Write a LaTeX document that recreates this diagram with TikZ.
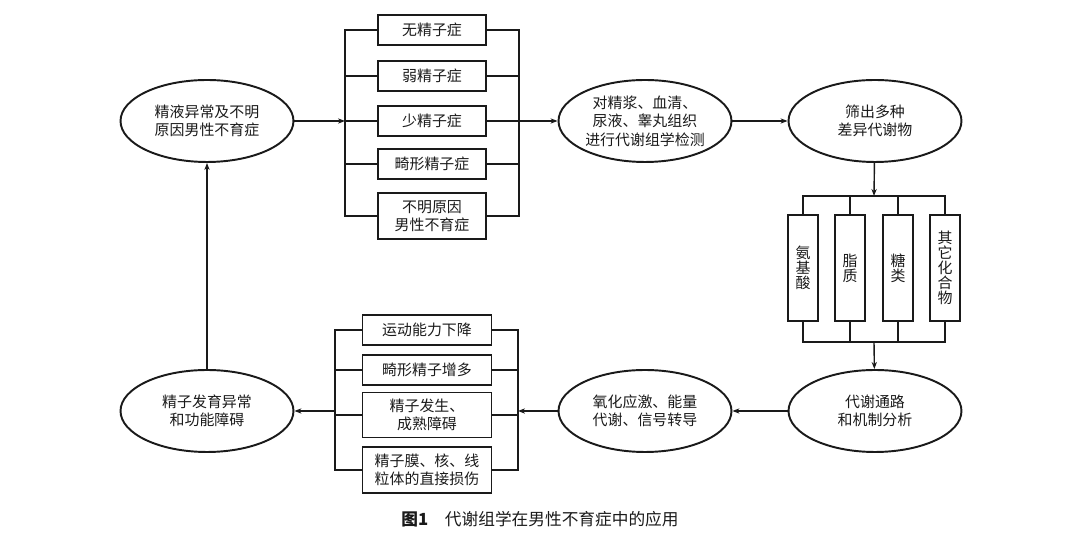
\documentclass[tikz,border=0pt]{standalone}
\usepackage{fontspec}
\setmainfont{Noto Sans CJK SC}
\usepackage{tikz}
\usetikzlibrary{positioning,shapes.geometric,arrows.meta,calc}
\definecolor{ink}{HTML}{1A1A1A}
\tikzset{
  >={Stealth[length=4pt,width=3pt]},
  every node/.style={font=\fontsize{8.5}{10.5}\selectfont, text=ink},
  % --- nodes
  ell/.style  = {ellipse, draw=ink, line width=1.1pt, align=center, inner sep=0pt,
                 minimum width=3.46cm, minimum height=1.64cm},
  box/.style  = {rectangle, draw=ink, line width=1.1pt, align=center, inner sep=0pt,
                 minimum height=0.6cm},
  vbox/.style = {box, minimum width=0.6cm, minimum height=2.12cm,
                 font=\fontsize{8.5}{8.6}\selectfont},
  % --- edges
  ln/.style   = {draw=ink, line width=0.8pt},
  e/.style    = {ln, ->},
}
\begin{document}
\begin{tikzpicture}[x=0.02cm, y=-0.02cm,
  tb/.style={box, minimum width=2.16cm},
  bb/.style={box, minimum width=2.58cm},
]
  \useasboundingbox (0,0) rectangle (1080,546);

  % --- ellipses
  \node[ell] (e1) at (207,121) {精液异常及不明\\原因男性不育症};
  \node[ell] (e2) at (645,121) {对精浆、血清、\\尿液、睾丸组织\\进行代谢组学检测};
  \node[ell] (e3) at (875,121) {筛出多种\\差异代谢物};
  \node[ell] (e4) at (875,411) {代谢通路\\和机制分析};
  \node[ell] (e5) at (645,411) {氧化应激、能量\\代谢、信号转导};
  \node[ell] (e6) at (207,411) {精子发育异常\\和功能障碍};

  % --- upper boxes
  \node[tb] (b1) at (432,30) {无精子症};
  \node[tb] (b2) at (432,76) {弱精子症};
  \node[tb] (b3) at (432,121) {少精子症};
  \node[tb] (b4) at (432,164) {畸形精子症};
  \node[tb, minimum height=0.92cm] (b5) at (432,216) {不明原因\\男性不育症};

  % --- metabolite classes
  \node[vbox] (v1) at (803,268) {氨\\基\\酸};
  \node[vbox] (v2) at (850,268) {脂\\质};
  \node[vbox] (v3) at (898,268) {糖\\类};
  \node[vbox] (v4) at (945,268) {其\\它\\化\\合\\物};

  % --- lower boxes
  \node[bb] (c1) at (427,330) {运动能力下降};
  \node[bb] (c2) at (427,370) {畸形精子增多};
  \node[bb, minimum height=0.9cm] (c3) at (427,415) {精子发生、\\成熟障碍};
  \node[bb, minimum height=0.92cm] (c4) at (427,470) {精子膜、核、线\\粒体的直接损伤};

  % --- caption
  \node[font=\fontsize{9.5}{11}\selectfont] (cap) at (540,519)
    {\textbf{图1}\quad 代谢组学在男性不育症中的应用};

  % --- bus points
  \coordinate (busL) at (345,121);
  \coordinate (busR) at (519,121);
  \coordinate (busT) at (874,196);
  \coordinate (busB) at (874,342);
  \coordinate (busR2) at (518,411);
  \coordinate (busL2) at (335,411);

  % upper fan
  \draw[ln] (b1.west) -| (busL) |- (b5.west);
  \draw[ln] (b1.east) -| (busR) |- (b5.east);
  \foreach \b in {b2,b3,b4} {
    \draw[ln] (\b.west) -- (\b.west -| busL);
    \draw[ln] (\b.east) -- (\b.east -| busR);
  }
  \draw[e] (e1) -- (busL);
  \draw[e] (busR) -- (e2);
  \draw[e] (e2) -- (e3);

  % class fan
  \draw[ln] (v1.north) |- (busT) -| (v4.north);
  \draw[ln] (v1.south) |- (busB) -| (v4.south);
  \foreach \v in {v2,v3} {
    \draw[ln] (\v.north) -- (\v.north |- busT);
    \draw[ln] (\v.south) -- (\v.south |- busB);
  }
  \draw[e] (e3) -- (busT);
  \draw[e] (busB) -- (e4);
  \draw[e] (e4) -- (e5);

  % lower fan
  \draw[ln] (c1.east) -| (busR2) |- (c4.east);
  \draw[ln] (c1.west) -| (busL2) |- (c4.west);
  \foreach \c in {c2,c3} {
    \draw[ln] (\c.east) -- (\c.east -| busR2);
    \draw[ln] (\c.west) -- (\c.west -| busL2);
  }
  \draw[e] (e5) -- (busR2);
  \draw[e] (busL2) -- (e6);
  \draw[e] (e6) -- (e1);
\end{tikzpicture}
\end{document}
